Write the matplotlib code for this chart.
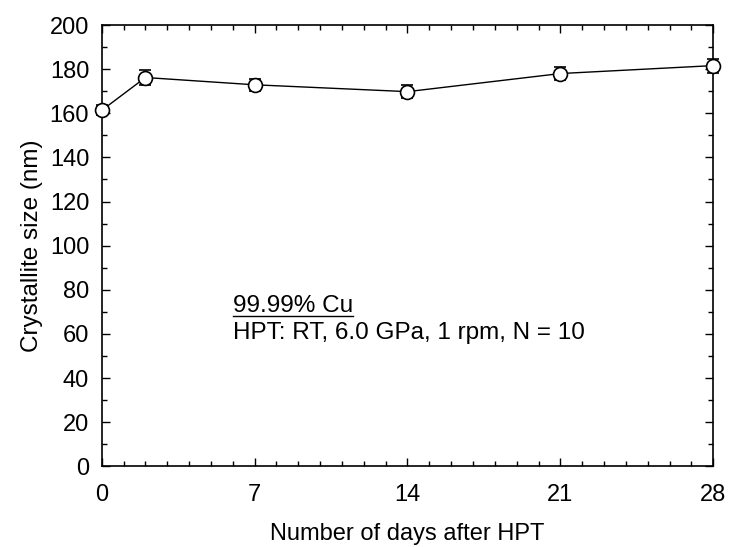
import matplotlib
matplotlib.use("Agg")
import matplotlib.pyplot as plt
from matplotlib.ticker import MultipleLocator
from matplotlib.lines import Line2D

plt.rcParams['font.family'] = ['Liberation Sans', 'DejaVu Sans']

days = [0, 2, 7, 14, 21, 28]
size_nm = [161.3, 176.2, 172.9, 169.8, 178.0, 181.6]
size_err = [2.3, 3.3, 2.6, 2.8, 2.9, 3.2]
x_ticks = [0, 7, 14, 21, 28]
y_ticks = list(range(0, 201, 20))

FS = 17

fig = plt.figure(figsize=(7.31, 5.47), dpi=100)
ax = fig.add_axes([101.7 / 731, 1 - 466.3 / 547, (713.3 - 101.7) / 731, (466.3 - 25) / 547])

ax.errorbar(days, size_nm, yerr=size_err, fmt='-o', color='black', lw=1.0,
            ms=10, mfc='white', mec='black', mew=1.2, ecolor='black',
            elinewidth=1.0, capsize=4, capthick=1.0, clip_on=False, zorder=3)

ax.set_xlim(0, 28)
ax.set_ylim(0, 200)
ax.set_xticks(x_ticks)
ax.set_yticks(y_ticks)
ax.xaxis.set_minor_locator(MultipleLocator(1))
ax.yaxis.set_minor_locator(MultipleLocator(10))
ax.tick_params(which='both', direction='in', top=True, right=True, width=1.0)
ax.tick_params(which='major', length=6, labelsize=FS)
ax.tick_params(which='minor', length=3.5)
ax.tick_params(axis='x', which='major', pad=13)
ax.tick_params(axis='y', which='major', pad=9)
for s in ax.spines.values():
    s.set_linewidth(1.2)

ax.set_xlabel('Number of days after HPT', fontsize=FS, labelpad=12)
ax.set_ylabel('Crystallite size (nm)', fontsize=FS + 0.5, labelpad=5)

title_txt = ax.text(6.0, 72.7, '99.99% Cu', fontsize=FS + 0.5, ha='left', va='center')
ax.text(6.0, 60.6, 'HPT: RT, 6.0 GPa, 1 rpm, N = 10', fontsize=FS + 0.5, ha='left', va='center')

# underline the alloy name
fig.canvas.draw()
bb = title_txt.get_window_extent(renderer=fig.canvas.get_renderer())
inv = fig.transFigure.inverted()
(x0, y0), (x1, _) = inv.transform([(bb.x0, bb.y0 + 1), (bb.x1, bb.y0 + 1)])
fig.add_artist(Line2D([x0, x1], [y0, y0], transform=fig.transFigure, color='black', lw=1.0))

fig.savefig('out.png', dpi=100)
